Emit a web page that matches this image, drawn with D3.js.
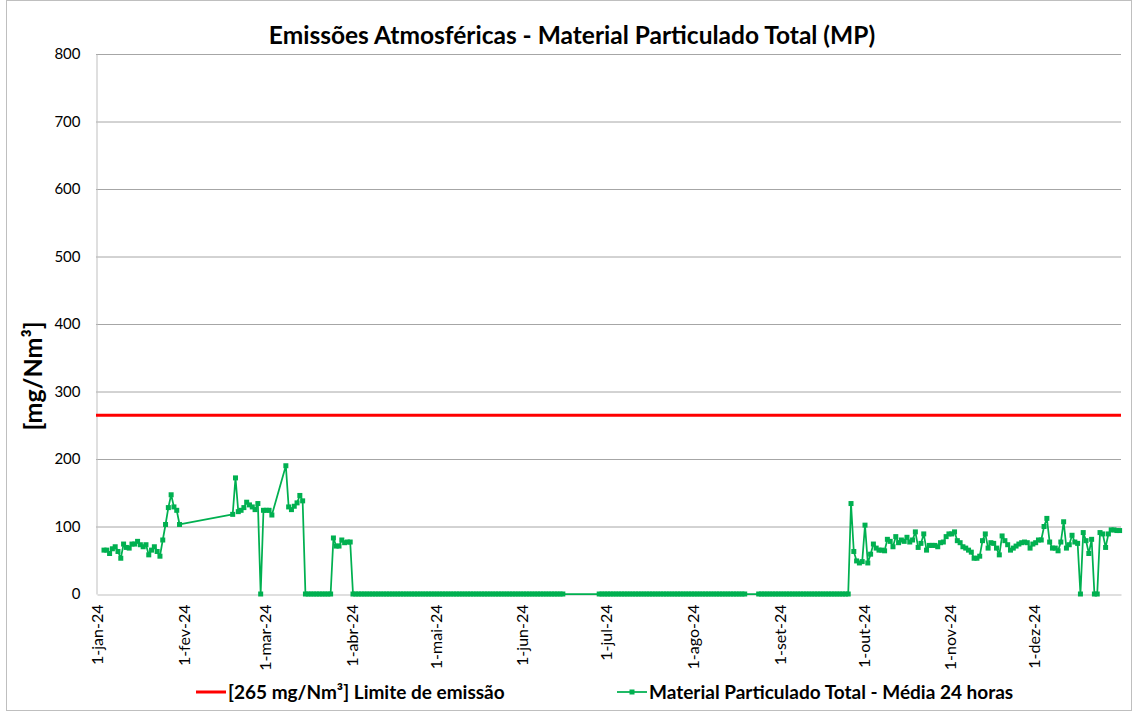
<!DOCTYPE html>
<html>
<head>
<meta charset="utf-8">
<script src="https://cdn.jsdelivr.net/npm/d3@7"></script>
<style>
  body { margin: 0; background: #fff; }
  svg { display: block; font-family: Lato, "Open Sans", sans-serif; }
</style>
</head>
<body>
<svg id="chart"></svg>
<script>
// chart data (daily means, mg/Nm³) - each run starts at its date, one value per day
var limite = 265;

var inicioJan = "2024-01-03";
var valoresJan = [65, 65, 60, 67, 70, 63, 53, 74, 69, 68, 74, 74, 78, 73, 70, 73, 58, 65, 70, 63,
  56, 80, 103, 128, 147, 129, 124, 103];

var inicioFev = "2024-02-18";
var valoresFev = [118, 172, 122, 124, 128, 136, 132, 129, 125, 134, 0, 124, 124, 124, 117];

var inicioMar = "2024-03-08";
var valoresMar = [190, 129, 125, 130, 135, 146, 138, 0, 0, 0, 0, 0, 0, 0, 0, 0, 0,
  83, 71, 71, 80, 76, 77, 77];

var inicioAbr = "2024-04-01";
var valoresAbr = [0, 0, 0, 0, 0, 0, 0, 0, 0, 0, 0, 0, 0, 0, 0, 0, 0, 0, 0, 0,
  0, 0, 0, 0, 0, 0, 0, 0, 0, 0, 0, 0, 0, 0, 0, 0, 0, 0, 0, 0,
  0, 0, 0, 0, 0, 0, 0, 0, 0, 0, 0, 0, 0, 0, 0, 0, 0, 0, 0, 0,
  0, 0, 0, 0, 0, 0, 0, 0, 0, 0, 0, 0, 0, 0, 0, 0];

var inicioJun = "2024-06-28";
var valoresJun = [0, 0, 0, 0, 0, 0, 0, 0, 0, 0, 0, 0, 0, 0, 0, 0, 0, 0, 0, 0,
  0, 0, 0, 0, 0, 0, 0, 0, 0, 0, 0, 0, 0, 0, 0, 0, 0, 0, 0, 0,
  0, 0, 0, 0, 0, 0, 0, 0, 0, 0, 0, 0, 0];

var inicioAgo = "2024-08-24";
var valoresAgo = [0, 0, 0, 0, 0, 0, 0, 0, 0, 0, 0, 0, 0, 0, 0, 0, 0, 0, 0, 0,
  0, 0, 0, 0, 0, 0, 0, 0, 0, 0, 0, 0, 0];

var inicioSet = "2024-09-26";
var valoresSet = [134, 63, 49, 46, 48, 102, 46, 59, 74, 68, 65, 65, 64, 81, 78, 70, 85, 76, 80, 78,
  84, 77, 80, 92, 69, 75, 89, 65, 72, 72, 72, 70, 76, 77, 85, 89, 89, 92, 79,
  76, 70, 68, 65, 62, 53, 53, 56, 79, 89, 68, 76, 75, 68, 58, 86, 79, 73, 65, 68,
  71, 74, 76, 77, 76, 68, 74, 76, 80, 80, 100, 112, 77, 68, 68, 64, 77, 107, 68, 73,
  87, 77, 75, 0, 91, 79, 60, 81, 0, 0, 91, 89, 69, 89, 95, 95, 94, 94];

var mesesTicks = ["1-jan-24", "1-fev-24", "1-mar-24", "1-abr-24", "1-mai-24", "1-jun-24",
  "1-jul-24", "1-ago-24", "1-set-24", "1-out-24", "1-nov-24", "1-dez-24"];
var yTicks = [0, 100, 200, 300, 400, 500, 600, 700, 800];

var titulo = "Emissões Atmosféricas - Material Particulado Total (MP)";
var legendaLimite = "[265 mg/Nm³] Limite de emissão";
var legendaSerie = "Material Particulado Total - Média 24 horas";

const width = 1132;
const height = 711;
const verde = "#00b050";

var svg = d3.select("#chart")
  .attr("width", width)
  .attr("height", height);

// outer border of chart
svg.append("rect")
  .attr("x", 6.5).attr("y", 0.5)
  .attr("width", width - 7).attr("height", height - 1)
  .attr("fill", "#fff").attr("stroke", "#bfbfbf");

var parse = d3.timeParse("%Y-%m-%d");

// build the points from the runs
var runs = [
  [inicioJan, valoresJan], [inicioFev, valoresFev], [inicioMar, valoresMar],
  [inicioAbr, valoresAbr], [inicioJun, valoresJun], [inicioAgo, valoresAgo], [inicioSet, valoresSet]
];
var pontos = [];
runs.forEach(function(r) {
  var d0 = parse(r[0]);
  r[1].forEach(function(v, i) {
    pontos.push({ date: d3.timeDay.offset(d0, i), value: v });
  });
});

var x = d3.scaleTime()
  .domain([new Date(2024, 0, 1), new Date(2025, 0, 1)])
  .range([97, 1121]);

var y = d3.scaleLinear()
  .domain([0, 800])
  .range([594, 54]);

// excel date axis puts the point in the middle of the day
var xc = function(d) { return x(d3.timeHour.offset(d, 12)); };

// grid
svg.append("g")
  .selectAll("line")
  .data(yTicks.filter(function(t) { return t > 0; }))
  .enter().append("line")
  .attr("x1", 96).attr("x2", 1121)
  .attr("y1", function(d) { return y(d) + 0.5; })
  .attr("y2", function(d) { return y(d) + 0.5; })
  .attr("stroke", "#a6a6a6")
  .attr("stroke-width", 1);

// y axis
var yAxis = svg.append("g")
  .attr("transform", "translate(96.5,0)")
  .call(d3.axisLeft(y).tickValues(yTicks).tickSize(0).tickPadding(16));
yAxis.select(".domain").attr("stroke", "#bfbfbf");
yAxis.selectAll("text")
  .attr("font-family", "Lato, sans-serif")
  .attr("font-size", 15)
  .attr("fill", "#000");

// x axis
var monthDates = d3.timeMonth.range(new Date(2024, 0, 1), new Date(2025, 0, 1));
var xAxis = svg.append("g")
  .attr("transform", "translate(0,594.5)")
  .call(d3.axisBottom(x).tickValues(monthDates).tickSize(0)
    .tickFormat(function(d, i) { return mesesTicks[i]; }));
xAxis.select(".domain").attr("stroke", "#bfbfbf");
xAxis.selectAll("text")
  .attr("font-family", "Lato, sans-serif")
  .attr("font-size", 16)
  .attr("fill", "#000")
  .attr("text-anchor", "end")
  .attr("transform", "rotate(-90)")
  .attr("x", -10)
  .attr("y", 0)
  .attr("dy", "0.35em");

// limit line
svg.append("line")
  .attr("x1", 96).attr("x2", 1121)
  .attr("y1", y(limite)).attr("y2", y(limite))
  .attr("stroke", "#ff0000")
  .attr("stroke-width", 3);

// series line
var line = d3.line()
  .x(function(d) { return xc(d.date); })
  .y(function(d) { return y(d.value); });

svg.append("path")
  .datum(pontos)
  .attr("fill", "none")
  .attr("stroke", verde)
  .attr("stroke-width", 1.75)
  .attr("stroke-linejoin", "round")
  .attr("d", line);

svg.append("g")
  .selectAll("rect")
  .data(pontos)
  .enter().append("rect")
  .attr("x", function(d) { return xc(d.date) - 2.5; })
  .attr("y", function(d) { return y(d.value) - 2.5; })
  .attr("width", 5).attr("height", 5)
  .attr("fill", verde);

// title
svg.append("text")
  .attr("x", 572).attr("y", 44)
  .attr("text-anchor", "middle")
  .attr("font-size", 24.5)
  .attr("font-weight", "bold")
  .text(titulo);

// y axis title
svg.append("text")
  .attr("transform", "translate(42,376) rotate(-90)")
  .attr("text-anchor", "middle")
  .attr("font-size", 25)
  .attr("font-weight", "bold")
  .text("[mg/Nm³]");

// legend
var leg = svg.append("g").attr("font-size", 19).attr("font-weight", "bold");
leg.append("line")
  .attr("x1", 196).attr("x2", 226).attr("y1", 692).attr("y2", 692)
  .attr("stroke", "#ff0000").attr("stroke-width", 3);
leg.append("text").attr("x", 228).attr("y", 699).text(legendaLimite);

leg.append("line")
  .attr("x1", 617).attr("x2", 647).attr("y1", 692).attr("y2", 692)
  .attr("stroke", verde).attr("stroke-width", 1.75);
leg.append("rect")
  .attr("x", 629.5).attr("y", 689.5).attr("width", 5).attr("height", 5)
  .attr("fill", verde);
leg.append("text").attr("x", 649).attr("y", 699).text(legendaSerie);
</script>
</body>
</html>
